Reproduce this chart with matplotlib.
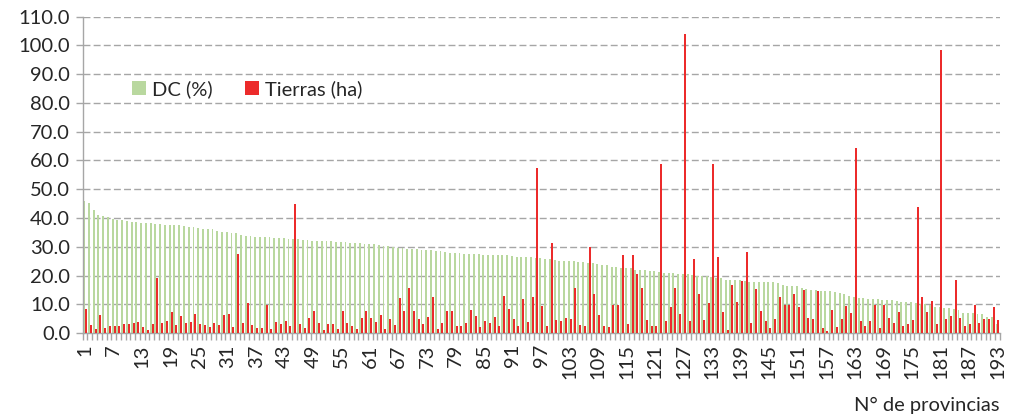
import matplotlib
matplotlib.use("Agg")
import matplotlib.pyplot as plt
import matplotlib.ticker as mticker
import numpy as np

# provincias ordenadas por DC (%)
dc_pct = [
    46.0, 45.1, 42.8, 41.0, 40.7, 40.3, 39.5, 39.3, 39.2, 39.0,
    38.7, 38.5, 38.4, 38.3, 38.1, 38.0, 37.8, 37.7, 37.7, 37.6,
    37.5, 37.1, 37.0, 37.0, 36.4, 36.3, 36.2, 36.1, 35.6, 35.2,
    35.0, 34.8, 34.7, 34.1, 33.7, 33.7, 33.5, 33.5, 33.4, 33.3,
    33.2, 33.2, 33.1, 32.8, 32.7, 32.7, 32.3, 32.2, 32.1, 32.0,
    32.0, 31.9, 31.9, 31.8, 31.7, 31.5, 31.4, 31.3, 31.2, 31.1,
    31.0, 30.8, 30.6, 30.3, 30.1, 29.8, 29.6, 29.5, 29.3, 29.2,
    29.1, 29.0, 28.9, 28.8, 28.6, 28.4, 28.1, 27.9, 27.8, 27.7,
    27.6, 27.5, 27.4, 27.4, 27.3, 27.3, 27.2, 27.1, 27.0, 27.0,
    26.9, 26.6, 26.5, 26.4, 26.3, 26.1, 26.0, 25.9, 25.6, 25.5,
    25.0, 24.9, 24.9, 24.9, 24.8, 24.7, 24.3, 24.2, 24.0, 23.7,
    23.5, 23.1, 23.0, 22.7, 22.6, 22.5, 22.0, 21.9, 21.9, 21.5,
    21.4, 21.3, 20.9, 20.9, 20.7, 20.5, 20.5, 20.4, 20.3, 20.0,
    19.9, 19.8, 19.6, 19.2, 19.0, 18.6, 18.5, 18.4, 18.3, 18.2,
    17.9, 17.8, 17.8, 17.7, 17.7, 17.6, 17.3, 16.8, 16.5, 16.3,
    16.2, 15.8, 15.4, 15.0, 14.8, 14.7, 14.6, 14.6, 14.3, 13.8,
    13.4, 12.9, 12.6, 12.2, 12.1, 12.0, 11.9, 11.8, 11.6, 11.5,
    11.4, 11.3, 10.9, 10.8, 10.7, 10.4, 10.2, 10.1, 9.8, 9.2,
    9.0, 8.8, 8.6, 8.2, 7.9, 7.0, 6.8, 6.8, 6.7, 6.6,
    5.6, 5.4, 3.3,
]

tierras_ha = [
    8.3, 2.8, 1.4, 6.3, 1.9, 2.3, 2.3, 2.4, 3.0, 3.1,
    3.4, 3.8, 2.1, 1.0, 3.3, 19.1, 3.6, 4.2, 7.2, 2.8,
    6.0, 3.5, 3.8, 6.6, 3.1, 2.8, 2.1, 3.6, 2.8, 6.3,
    6.6, 2.1, 27.4, 3.4, 10.6, 2.7, 1.9, 1.9, 9.8, 1.5,
    4.0, 3.3, 4.2, 2.4, 44.7, 3.3, 1.6, 5.1, 7.6, 3.5,
    1.0, 3.3, 3.0, 1.4, 7.6, 3.5, 2.3, 1.4, 5.2, 7.6,
    5.2, 3.7, 6.4, 1.5, 5.0, 2.7, 12.2, 7.6, 15.8, 7.7,
    4.8, 3.0, 5.5, 12.6, 1.3, 3.6, 7.7, 7.6, 2.4, 2.4,
    3.5, 7.9, 5.8, 2.1, 4.1, 3.5, 5.6, 2.4, 12.9, 8.4,
    4.8, 2.4, 11.7, 3.7, 12.6, 57.5, 9.5, 2.4, 31.2, 4.4,
    4.1, 5.3, 4.8, 15.5, 2.7, 2.6, 30.0, 13.7, 6.2, 2.4,
    2.0, 9.9, 9.9, 27.3, 3.1, 27.1, 20.5, 15.6, 4.7, 2.4,
    2.3, 58.9, 4.1, 9.2, 15.6, 6.5, 104.0, 4.3, 25.9, 13.4,
    4.6, 10.4, 58.9, 26.6, 7.3, 1.2, 16.6, 10.7, 18.0, 28.0,
    3.5, 15.2, 7.7, 4.1, 1.7, 4.8, 12.5, 9.8, 9.6, 13.4,
    9.0, 15.0, 5.2, 4.9, 14.6, 1.9, 0.8, 8.0, 2.0, 4.8,
    9.4, 6.9, 64.5, 4.1, 2.3, 4.1, 9.6, 1.9, 9.8, 5.2,
    3.4, 7.2, 2.5, 3.2, 4.7, 43.7, 12.4, 7.2, 11.3, 3.2,
    98.5, 4.8, 6.0, 18.3, 5.3, 2.6, 3.2, 9.8, 3.6, 5.0,
    5.0, 9.0, 4.6,
]

provincias = np.arange(1, len(dc_pct) + 1)
tick_labels = [str(p) for p in provincias[::6]]

plt.rcParams['font.family'] = ['Lato', 'DejaVu Sans']
text_color = '#262626'
axis_gray = '#a6a6a6'

fig = plt.figure(figsize=(10.14, 4.17), dpi=100)
ax = fig.add_axes([0.0816, 0.2014, 0.9044, 0.7586])

ax.bar(provincias - 0.2, dc_pct, width=0.4, color='#b9d89f', label='DC (%)', zorder=2)
ax.bar(provincias + 0.2, tierras_ha, width=0.42, color='#ec2b2b', label='Tierras (ha)', zorder=3)

ax.set_xlim(0.5, len(provincias) + 0.5)
ax.set_ylim(0, 110)
ax.yaxis.set_major_locator(mticker.MultipleLocator(10))
ax.yaxis.set_major_formatter(mticker.FormatStrFormatter('%.1f'))
ax.grid(axis='y', color=axis_gray, linestyle=(0, (5, 2.3)), linewidth=1.0, zorder=0)
ax.set_axisbelow(True)

ax.set_xticks(provincias[::6])
ax.set_xticklabels(tick_labels, rotation=90)
ax.set_xticks(np.arange(0.5, len(provincias) + 1, 1), minor=True)
ax.tick_params(axis='x', which='major', length=0, pad=8, labelsize=14.5, colors=text_color)
ax.tick_params(axis='x', which='minor', length=5, width=1, color=axis_gray)
ax.tick_params(axis='y', which='major', length=5, width=1, color=axis_gray,
               labelsize=14.5, labelcolor=text_color, pad=4)

for side in ['top', 'right']:
    ax.spines[side].set_visible(False)
for side in ['left', 'bottom']:
    ax.spines[side].set_color(axis_gray)
    ax.spines[side].set_linewidth(1.0)

leg = ax.legend(loc='center left', bbox_to_anchor=(0.045, 0.77), ncol=2, frameon=False,
                fontsize=14.5, handlelength=0.7, handleheight=0.7, handletextpad=0.3,
                columnspacing=1.6, borderaxespad=0)
for t in leg.get_texts():
    t.set_color(text_color)

fig.text(0.986, 0.028, 'N° de provincias', ha='right', va='center',
         fontsize=14.5, color=text_color)

fig.savefig('out.png', dpi=100)
